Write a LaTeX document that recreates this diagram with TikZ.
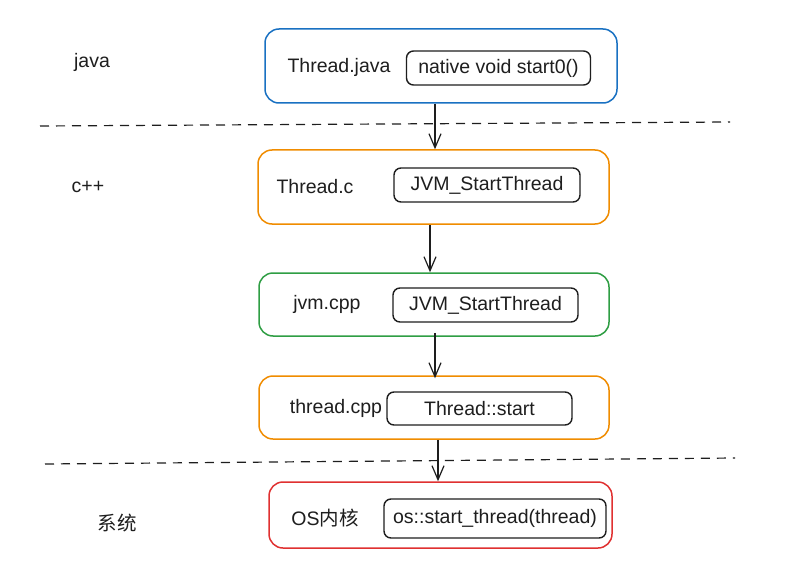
\documentclass[tikz,border=0pt]{standalone}
\usepackage{fontspec}
\setmainfont{Liberation Sans}
\newfontfamily\cjk{Noto Sans CJK SC}
\usetikzlibrary{arrows.meta}
\definecolor{ink}{HTML}{1E1E1E}
\definecolor{eblue}{HTML}{1971C2}
\definecolor{eorange}{HTML}{F08C00}
\definecolor{egreen}{HTML}{2F9E44}
\definecolor{ered}{HTML}{E03131}
\tikzset{
  outerbox/.style={draw=#1, line width=1.5pt, rounded corners=14pt, inner sep=0pt},
  innerbox/.style={draw=ink, line width=1.4pt, rounded corners=7pt, inner sep=0pt, text=ink},
  lbl/.style={text=ink, inner sep=0pt},
  flow/.style={draw=ink, line width=1.3pt, -{Straight Barb[length=14pt,width=12pt,line width=1.2pt]}},
  divider/.style={draw=ink, line width=1.2pt, dash pattern=on 9pt off 7pt},
}
\begin{document}
\begin{tikzpicture}[x=1pt,y=-1pt,font=\fontsize{19.5}{23}\selectfont]
\useasboundingbox[fill=white] (0,0) rectangle (786,572);
% outer boxes
\node[outerbox=eblue, minimum width=352pt, minimum height=74pt] (b1) at (441,66) {};
\node[outerbox=eorange, minimum width=351pt, minimum height=74pt] (b2) at (433.5,187) {};
\node[outerbox=egreen, minimum width=350pt, minimum height=63pt] (b3) at (434,304.5) {};
\node[outerbox=eorange, minimum width=350pt, minimum height=63pt] (b4) at (434,407.5) {};
\node[outerbox=ered, minimum width=343pt, minimum height=66pt] (b5) at (440.5,515) {};
% inner boxes
\node[innerbox, minimum width=184pt, minimum height=34pt] (i1) at (498.5,68) {native void start0()};
\node[innerbox, minimum width=186pt, minimum height=34pt] (i2) at (487,185) {JVM\_StartThread};
\node[innerbox, minimum width=185pt, minimum height=34pt] (i3) at (485.5,305) {JVM\_StartThread};
\node[innerbox, minimum width=185pt, minimum height=33pt] (i4) at (479.5,408.5) {Thread::start};
\node[innerbox, minimum width=222pt, minimum height=39pt] (i5) at (495,518.5) {os::start\_thread(thread)};
% box labels
\node[lbl] (t1) at (339,67) {Thread.java};
\node[lbl] (t2) at (315,187) {Thread.c};
\node[lbl] (t3) at (327,304) {jvm.cpp};
\node[lbl] (t4) at (336,408) {thread.cpp};
\node[lbl] (t5) at (325,518) {OS{\cjk 内核}};
% layer labels
\node[lbl] (l1) at (92,62) {java};
\node[lbl] (l2) at (88,187) {c++};
\node[lbl] (l3) at (117,523) {\cjk 系统};
% dividers
\coordinate (d1a) at (40,126);
\coordinate (d1b) at (730,122);
\coordinate (d2a) at (45,464);
\coordinate (d2b) at (735,458);
\draw[divider] (d1a) -- (d1b);
\draw[divider] (d2a) -- (d2b);
% arrows
\draw[flow] ([xshift=-6pt]b1.south) -- ([xshift=1.5pt]b2.north);
\draw[flow] ([xshift=-3.5pt]b2.south) -- ([xshift=-4pt]b3.north);
\draw[flow] ([xshift=1pt,yshift=4pt]b3.south) -- ([xshift=1pt,yshift=-3pt]b4.north);
\draw[flow] ([xshift=4pt]b4.south) -- ([xshift=-2.5pt]b5.north);
\end{tikzpicture}
\end{document}
